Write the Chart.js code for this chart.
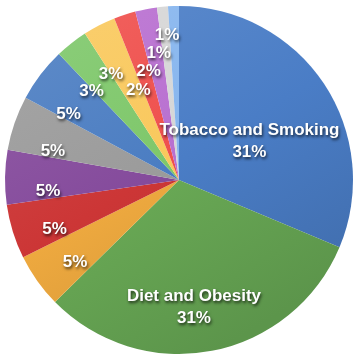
<!DOCTYPE html>
<html>
<head>
<meta charset="utf-8">
<script src="https://cdn.jsdelivr.net/npm/chart.js@4/dist/chart.umd.min.js"></script>
<style>
  html, body { margin: 0; padding: 0; background: #ffffff; }
  canvas { display: block; }
</style>
</head>
<body>
<canvas id="c" width="355" height="356"></canvas>
<script>
// ---- data ----
const categories = [
  "Tobacco and Smoking",
  "Diet and Obesity",
  "Sedentary Lifestyle",
  "Occupational Factors",
  "Family History",
  "Viruses and Biologic Agents",
  "Perinatal Factors and Growth",
  "Reproductive Factors",
  "Alcohol",
  "Socioeconomic Status",
  "Environmental Pollution",
  "Radiation",
  "Medical Procedures"
];
const percentages = [31, 31, 5, 5, 5, 5, 5, 3, 3, 2, 2, 1, 1];
const showName = [true, true, false, false, false, false, false, false, false, false, false, false, false];

// ---- styles ----
const sliceColors = [
  "#4a7dc6", "#69a955", "#eea93f", "#cc3636", "#854b9c", "#9b9b9b",
  "#4b7dc2", "#7ec76a", "#f9c85c", "#ef4f4c", "#b86fd0", "#d6d6d6", "#86b5ee"
];
const labelRadii = [93, 116, 119, 123, 124, 126, 130, 130, 133, 108, 124, 140, 158];

function shade(hex, amt) {
  const n = parseInt(hex.slice(1), 16);
  let r = (n >> 16) & 255, g = (n >> 8) & 255, b = n & 255;
  const f = c => Math.max(0, Math.min(255, Math.round(amt >= 0 ? c + (255 - c) * amt : c * (1 + amt))));
  return "rgb(" + f(r) + "," + f(g) + "," + f(b) + ")";
}

function sliceFill(context) {
  const chart = context.chart;
  const area = chart.chartArea;
  if (!area) return sliceColors[context.dataIndex];
  const base = sliceColors[context.dataIndex];
  const g = chart.ctx.createLinearGradient(area.left, area.top, area.right * 0.6, area.bottom);
  g.addColorStop(0, shade(base, 0.12));
  g.addColorStop(0.55, base);
  g.addColorStop(1, shade(base, -0.12));
  return g;
}

const sliceLabels = {
  id: "sliceLabels",
  afterDatasetsDraw(chart, args, opts) {
    const meta = chart.getDatasetMeta(0);
    const ctx = chart.ctx;
    ctx.save();
    ctx.font = opts.font;
    ctx.textAlign = "center";
    ctx.textBaseline = "middle";
    ctx.fillStyle = "#ffffff";
    ctx.shadowColor = "rgba(0,0,0,0.7)";
    ctx.shadowBlur = 3;
    ctx.shadowOffsetX = 1;
    ctx.shadowOffsetY = 2;
    meta.data.forEach((arc, i) => {
      const p = arc.getProps(["x", "y", "startAngle", "endAngle"], true);
      const mid = (p.startAngle + p.endAngle) / 2;
      const vx = p.x + opts.vertexShift[0];
      const vy = p.y + opts.vertexShift[1];
      const r = opts.radii[i];
      const px = vx + Math.cos(mid) * r;
      const py = vy + Math.sin(mid) * r;
      const pct = chart.data.datasets[0].data[i] + "%";
      if (showName[i]) {
        ctx.fillText(chart.data.labels[i], px, py - opts.lineHeight / 2);
        ctx.fillText(pct, px, py + opts.lineHeight / 2);
      } else {
        ctx.fillText(pct, px, py);
      }
    });
    ctx.restore();
  }
};

new Chart(document.getElementById("c"), {
  type: "pie",
  data: {
    labels: categories,
    datasets: [{
      data: percentages,
      backgroundColor: sliceFill,
      borderWidth: 0
    }]
  },
  options: {
    responsive: false,
    animation: false,
    devicePixelRatio: 1,
    layout: { padding: { left: 5, right: 2, top: 6, bottom: 2 } },
    plugins: {
      legend: { display: false },
      tooltip: { enabled: false },
      sliceLabels: {
        font: "bold 17px 'Liberation Sans', Arial, sans-serif",
        lineHeight: 22,
        radii: labelRadii,
        vertexShift: [-7, 13]
      }
    }
  },
  plugins: [sliceLabels]
});
</script>
</body>
</html>
